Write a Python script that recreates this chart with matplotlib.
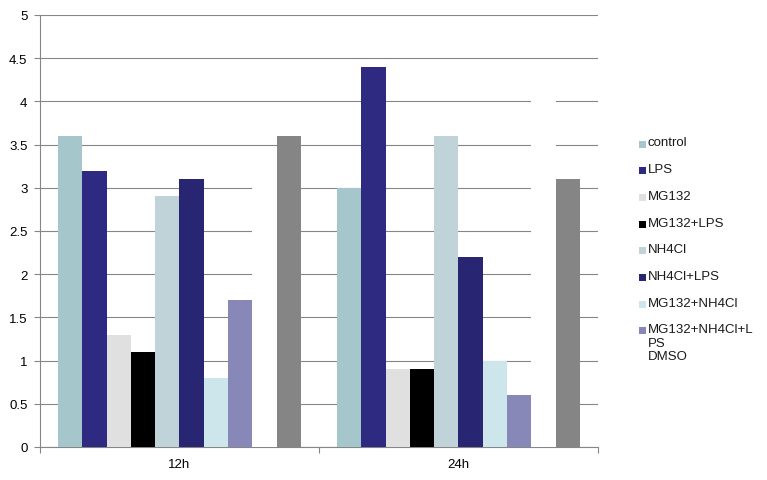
import matplotlib
matplotlib.use('Agg')
import matplotlib.pyplot as plt
from matplotlib.patches import Rectangle
import numpy as np

plt.rcParams['font.family'] = ['Liberation Sans', 'DejaVu Sans']

categories = ["12h", "24h"]
series_names = ["control", "LPS", "MG132", "MG132+LPS", "NH4Cl", "NH4Cl+LPS",
                "MG132+NH4Cl", "MG132+NH4Cl+LPS", "DMSO", "other"]
values = {
    "control":         [3.6, 3.0],
    "LPS":             [3.2, 4.4],
    "MG132":           [1.3, 0.9],
    "MG132+LPS":       [1.1, 0.9],
    "NH4Cl":           [2.9, 3.6],
    "NH4Cl+LPS":       [3.1, 2.2],
    "MG132+NH4Cl":     [0.8, 1.0],
    "MG132+NH4Cl+LPS": [1.7, 0.6],
    "DMSO":            [3.2, 4.2],
    "other":           [3.6, 3.1],
}
colors = ["#a5c6ca", "#2e2a82", "#e0e0e0", "#000000", "#c0d3d8", "#282673",
          "#cde6eb", "#8888b8", "#ffffff", "#858585"]
legend_labels = ["control", "LPS", "MG132", "MG132+LPS", "NH4Cl", "NH4Cl+LPS",
                 "MG132+NH4Cl", "MG132+NH4Cl+L\nPS", "DMSO"]

W, H = 767, 481
fig = plt.figure(figsize=(W / 100, H / 100), dpi=100)
ax = fig.add_axes([40 / W, (H - 448) / H, 558 / W, 432 / H])

grid_c = "#868686"
n = len(series_names)
bw = 1.0 / (n + 1.5)
x = np.arange(len(categories))
for i, name in enumerate(series_names):
    ax.bar(x + (i - (n - 1) / 2) * bw, values[name], width=bw, color=colors[i],
           linewidth=0, zorder=3)

ax.set_xlim(-0.5, 1.5)
ax.set_ylim(0, 5)
yt = np.arange(0, 5.01, 0.5)
ax.set_yticks(yt)
ax.set_yticklabels([f"{v:g}" for v in yt], fontsize=9.5)
ax.set_xticks(x)
ax.set_xticklabels(categories, fontsize=9.5)
ax.set_xticks([-0.5, 0.5, 1.5], minor=True)
ax.tick_params(axis='x', which='major', length=0, pad=8)
ax.tick_params(axis='x', which='minor', length=4, width=0.8, color=grid_c, direction='out')
ax.tick_params(axis='y', length=4, width=0.8, color=grid_c, pad=5)
ax.yaxis.grid(True, color=grid_c, linewidth=0.8, zorder=0)
ax.set_axisbelow(True)
for s in ['top', 'right']:
    ax.spines[s].set_visible(False)
for s in ['left', 'bottom']:
    ax.spines[s].set_color(grid_c)
    ax.spines[s].set_linewidth(0.8)

# legend (truncated, as in the original)
y0, dy = 145, 26.7
for i, lab in enumerate(legend_labels):
    yc = y0 + i * dy
    fig.patches.append(Rectangle((639 / W, 1 - (yc + 3.5) / H), 7 / W, 7 / H,
                                 transform=fig.transFigure, facecolor=colors[i],
                                 edgecolor='none'))
    fig.text(648 / W, 1 - (yc - 7.5) / H, lab, fontsize=9.5, va='top', ha='left',
             linespacing=1.15, color="#1a1a1a")

fig.savefig("out.png", dpi=100)
